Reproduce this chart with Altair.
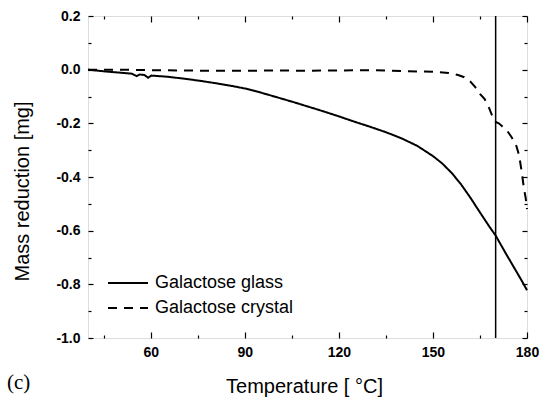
import altair as alt
import pandas as pd

# Data
glass_T = [40, 45, 50, 54, 55.5, 56.5, 58, 59.2, 60.2, 65, 71, 76, 81, 86, 90, 95, 100, 105,
           110, 115, 120, 125, 130, 135, 140, 145, 150, 153, 156, 159, 162, 165, 168, 170,
           173, 176, 178, 180]
glass_m = [0.0, -0.006, -0.011, -0.015, -0.024, -0.018, -0.020, -0.030, -0.022, -0.026,
           -0.034, -0.042, -0.051, -0.061, -0.070, -0.085, -0.102, -0.119, -0.137, -0.155,
           -0.174, -0.194, -0.213, -0.233, -0.256, -0.284, -0.322, -0.350, -0.385, -0.428,
           -0.478, -0.532, -0.585, -0.618, -0.680, -0.740, -0.780, -0.822]

crystal_T = [40, 50, 60, 70, 80, 90, 100, 110, 120, 130, 140, 150, 155, 158, 160, 162, 163.5,
             165, 166.5, 168, 169, 170, 171, 172, 173.5, 175, 176.5, 177.5, 178.3, 179, 179.6, 180]
crystal_m = [0.0, 0.0, -0.002, -0.003, -0.004, -0.004, -0.003, -0.004, -0.003, -0.002, -0.005,
             -0.008, -0.012, -0.020, -0.028, -0.045, -0.065, -0.090, -0.110, -0.145, -0.175,
             -0.195, -0.200, -0.210, -0.225, -0.250, -0.280, -0.320, -0.380, -0.440, -0.480, -0.520]

series_names = ["Galactose glass", "Galactose crystal"]
vline_T = [170]
x_major = [60, 90, 120, 150, 180]
x_minor = [45, 75, 105, 135, 165]
y_major = [-1.0, -0.8, -0.6, -0.4, -0.2, 0.0, 0.2]
y_minor = [-0.9, -0.7, -0.5, -0.3, -0.1, 0.1]
panel_label = ["(c)"]

df = pd.concat([
    pd.DataFrame({"T": glass_T, "m": glass_m, "series": series_names[0]}),
    pd.DataFrame({"T": crystal_T, "m": crystal_m, "series": series_names[1]}),
], ignore_index=True)
df_v = pd.DataFrame({"T": vline_T})
df_lab = pd.DataFrame({"label": panel_label})

SANS = "Liberation Sans"
xscale = alt.Scale(domain=[40, 180], nice=False, zero=False)
yscale = alt.Scale(domain=[-1.0, 0.2], nice=False, zero=False)
minus_fix = "replace(format(datum.value, '.1f'), '\u2212', '-')"


def tick_axis(orient, values, size, labels=False, **kw):
    return alt.Axis(orient=orient, values=values, offset=-size, tickSize=size,
                    tickWidth=1.2, tickColor="black", domain=False, grid=False,
                    labels=labels, labelFlush=False, **kw)


x_main = tick_axis("bottom", x_major, 6, labels=True, labelPadding=7,
                   labelFont=SANS, labelFontSize=14, labelFontWeight="bold",
                   labelColor="black", title="Temperature [ \u00b0C]", titleFont=SANS,
                   titleFontSize=20, titleFontWeight="normal", titleColor="black",
                   titleX=216, titleY=60, titleBaseline="alphabetic", titleAlign="center")
y_main = tick_axis("left", y_major, 5, labels=True, labelPadding=8,
                   labelFont=SANS, labelFontSize=14, labelFontWeight="bold",
                   labelColor="black", labelExpr=minus_fix,
                   title="Mass reduction [mg]", titleFont=SANS, titleFontSize=20,
                   titleFontWeight="normal", titleColor="black", titleAngle=270,
                   titleX=-71, titleY=175, titleBaseline="middle", titleAlign="center")

lines = alt.Chart(df).mark_line(strokeWidth=2, color="black").encode(
    x=alt.X("T:Q", scale=xscale, axis=x_main),
    y=alt.Y("m:Q", scale=yscale, axis=y_main),
    strokeDash=alt.StrokeDash(
        "series:N",
        scale=alt.Scale(domain=series_names, range=[[1, 0], [9, 7]]),
        legend=alt.Legend(orient="none", legendX=31, legendY=258, title=None,
                          symbolType="M-2.5,0H2.5", symbolSize=256, symbolStrokeWidth=2,
                          symbolStrokeColor="black", symbolFillColor="transparent",
                          symbolOffset=0, padding=0,
                          labelFont=SANS, labelFontSize=18, labelColor="black",
                          labelOffset=18, rowPadding=7, labelLimit=300),
    ),
    detail="series:N",
)

vrule = alt.Chart(df_v).mark_rule(strokeWidth=1.5, color="black").encode(
    x=alt.X("T:Q", scale=xscale, axis=tick_axis("bottom", x_minor, 3, title=None)),
    y=alt.Y("m0:Q", scale=yscale, axis=tick_axis("left", y_minor, 3, title=None)),
).transform_calculate(m0="-1.0").encode(y2=alt.datum(0.2))

ghost_a = alt.Chart(df).mark_line(strokeOpacity=0).encode(
    x=alt.X("T:Q", scale=xscale, axis=tick_axis("top", x_major, 6, title=None)),
    y=alt.Y("m:Q", scale=yscale, axis=tick_axis("right", y_major, 5, title=None)),
    detail="series:N",
)
ghost_b = alt.Chart(df).mark_line(strokeOpacity=0).encode(
    x=alt.X("T:Q", scale=xscale, axis=tick_axis("top", x_minor, 3, title=None)),
    y=alt.Y("m:Q", scale=yscale, axis=tick_axis("right", y_minor, 3, title=None)),
    detail="series:N",
)

label_c = alt.Chart(df_lab).mark_text(font="Liberation Serif", fontSize=21, align="left",
                                      baseline="middle", color="black").encode(
    x=alt.value(-81), y=alt.value(367), text="label:N")

chart = alt.layer(lines, vrule, ghost_a, ghost_b, label_c).resolve_axis(
    x="independent", y="independent"
).properties(
    width=439, height=322,
    autosize=alt.AutoSizeParams(type="none"),
    padding={"left": 88, "top": 16, "right": 12, "bottom": 65},
).configure_view(stroke="black", strokeWidth=1.5).configure(background="white")

chart.save("out.html", embed_options={"renderer": "svg", "actions": False})
